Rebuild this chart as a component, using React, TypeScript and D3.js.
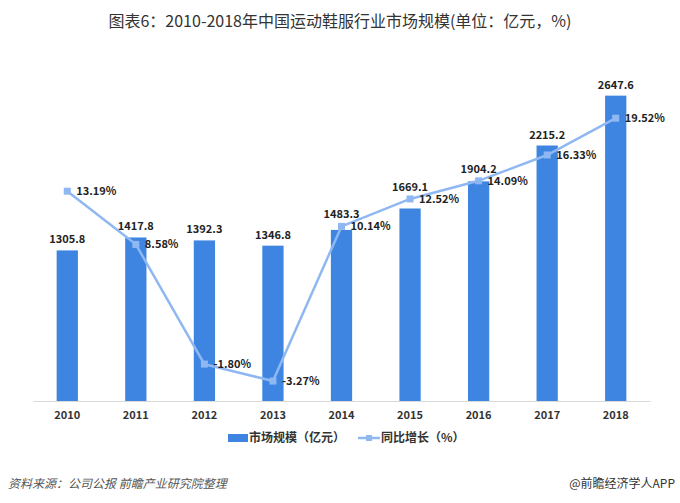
import React, { useRef, useEffect } from 'react'
import * as d3 from 'd3'

const years = ['2010', '2011', '2012', '2013', '2014', '2015', '2016', '2017', '2018']
const marketSize = [1305.8, 1417.8, 1392.3, 1346.8, 1483.3, 1669.1, 1904.2, 2215.2, 2647.6]
const growth = [13.19, 8.58, -1.8, -3.27, 10.14, 12.52, 14.09, 16.33, 19.52]

const title = '图表6：2010-2018年中国运动鞋服行业市场规模(单位：亿元，%)'
const legendBar = '市场规模（亿元）'
const legendLine = '同比增长（%）'
const source = '资料来源：公司公报 前瞻产业研究院整理'
const credit = '@前瞻经济学人APP'

const FONT = '"Noto Sans CJK SC", "Microsoft YaHei", sans-serif'
const BAR = '#3d85e0'
const LINE = '#8fb8f2'

export default function App() {
  const ref = useRef(null)

  useEffect(() => {
    const svg = d3.select(ref.current)
    svg.selectAll('*').remove()
    svg.style('font-family', FONT)

    const width = 680
    const height = 503
    const margin = { top: 55, right: 30, bottom: 102, left: 33 }
    const baseY = height - margin.bottom

    svg.append('rect').attr('width', width).attr('height', height).attr('fill', '#fff')

    // title
    svg.append('text')
      .attr('x', width / 2).attr('y', 27)
      .attr('text-anchor', 'middle')
      .attr('font-size', 16)
      .attr('fill', '#333')
      .text(title)

    var x = d3.scaleBand().domain(years).range([margin.left, width - margin.right]).padding(0)
    var y = d3.scaleLinear().domain([0, 3000]).range([baseY, margin.top])
    var y2 = d3.scaleLinear().domain([-5, 25]).range([baseY, margin.top])
    const barW = x.bandwidth() * 0.31
    const cx = (d) => x(d) + x.bandwidth() / 2

    // bars
    svg.append('g')
      .selectAll('rect')
      .data(years)
      .enter()
      .append('rect')
      .attr('x', (d) => cx(d) - barW / 2)
      .attr('y', (d, i) => y(marketSize[i]))
      .attr('width', barW)
      .attr('height', (d, i) => baseY - y(marketSize[i]))
      .attr('fill', BAR)

    // bar labels (lifted when the growth line passes through the label)
    svg.append('g')
      .selectAll('text')
      .data(years)
      .enter()
      .append('text')
      .attr('x', (d) => cx(d))
      .attr('y', (d, i) => {
        const top = y(marketSize[i]) - 7
        const lineY = y2(growth[i])
        if (lineY < y(marketSize[i]) && lineY > top - 14) return lineY - 8
        return top
      })
      .attr('text-anchor', 'middle')
      .attr('font-size', 11)
      .attr('font-weight', 'bold')
      .attr('fill', '#222')
      .text((d, i) => marketSize[i].toFixed(1))

    // x axis
    const axis = svg.append('g')
      .attr('transform', `translate(0,${baseY})`)
      .call(d3.axisBottom(x).tickSize(0).tickPadding(10))
    axis.select('.domain').attr('stroke', '#d9d9d9').attr('stroke-width', 1)
    axis.selectAll('text')
      .attr('font-size', 11)
      .attr('font-weight', 'bold')
      .attr('fill', '#333')
      .attr('font-family', FONT)

    // growth line
    svg.append('path')
      .datum(years)
      .attr('fill', 'none')
      .attr('stroke', LINE)
      .attr('stroke-width', 2.5)
      .attr('d', d3.line()
        .x((d) => cx(d))
        .y((d, i) => y2(growth[i]))
      )

    svg.append('g')
      .selectAll('rect')
      .data(years)
      .enter()
      .append('rect')
      .attr('x', (d) => cx(d) - 3.5)
      .attr('y', (d, i) => y2(growth[i]) - 3.5)
      .attr('width', 7)
      .attr('height', 7)
      .attr('fill', LINE)

    svg.append('g')
      .selectAll('text')
      .data(years)
      .enter()
      .append('text')
      .attr('x', (d) => cx(d) + 9)
      .attr('y', (d, i) => y2(growth[i]))
      .attr('dy', '0.35em')
      .attr('font-size', 11)
      .attr('font-weight', 'bold')
      .attr('fill', '#222')
      .text((d, i) => growth[i].toFixed(2) + '%')

    // legend
    const lg = svg.append('g').attr('transform', 'translate(0,438)')
    lg.append('rect').attr('x', 228).attr('y', -4).attr('width', 20).attr('height', 8).attr('fill', BAR)
    lg.append('text').attr('x', 249).attr('y', 0).attr('dy', '0.35em')
      .attr('font-size', 12).attr('font-weight', 'bold').attr('fill', '#333').text(legendBar)
    lg.append('line').attr('x1', 358).attr('x2', 380).attr('y1', 0).attr('y2', 0)
      .attr('stroke', LINE).attr('stroke-width', 2.5)
    lg.append('rect').attr('x', 366).attr('y', -3).attr('width', 6).attr('height', 6).attr('fill', LINE)
    lg.append('text').attr('x', 381).attr('y', 0).attr('dy', '0.35em')
      .attr('font-size', 12).attr('font-weight', 'bold').attr('fill', '#333').text(legendLine)

    // footer
    svg.append('text')
      .attr('x', 8).attr('y', 488)
      .attr('font-size', 12)
      .attr('font-style', 'italic')
      .attr('fill', '#555')
      .text(source)
    svg.append('text')
      .attr('x', 675).attr('y', 488)
      .attr('text-anchor', 'end')
      .attr('font-size', 12)
      .attr('fill', '#333')
      .text(credit)
  }, [])

  return (
    <svg
      ref={ref}
      width={680}
      height={503}
      style={{ position: 'absolute', left: 0, top: 0, display: 'block' }}
    />
  )
}
